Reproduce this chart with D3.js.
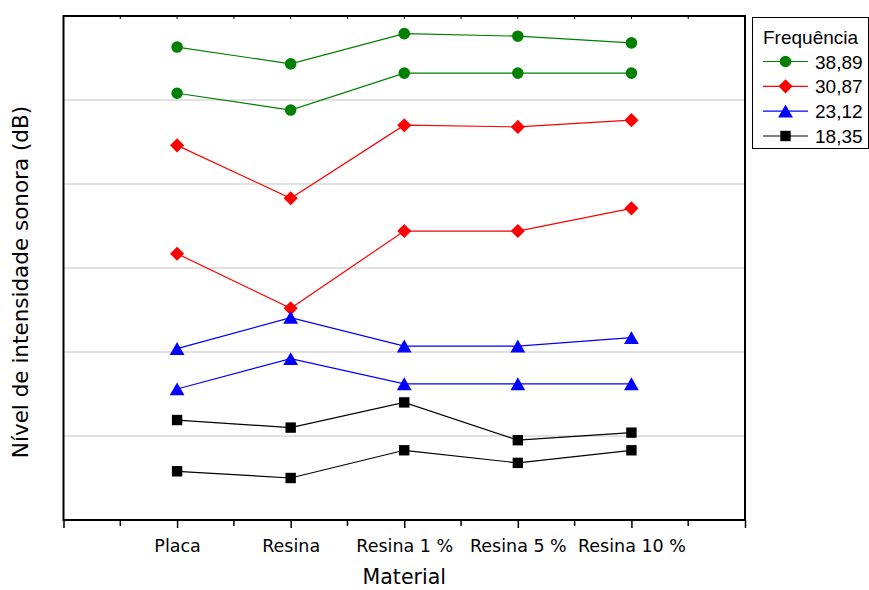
<!DOCTYPE html>
<html>
<head>
<meta charset="utf-8">
<script src="https://cdn.jsdelivr.net/npm/d3@7"></script>
<style>
  html, body { margin: 0; padding: 0; background: #fff; }
  svg { display: block; }
</style>
</head>
<body>
<svg id="chart" width="869" height="590"></svg>
<script>
// ---- data (y values in relative units; the original axis has no tick labels) ----
const categories = ["Placa", "Resina", "Resina 1 %", "Resina 5 %", "Resina 10 %"];
const frequencies = ["38,89", "30,87", "23,12", "18,35"];
const colors = ["#008000", "#ff0000", "#0000ff", "#000000"];
const symbols = ["circle", "diamond", "triangle", "square"];

const f3889_high = [5.63, 5.43, 5.79, 5.76, 5.68];
const f3889_low  = [5.08, 4.88, 5.32, 5.32, 5.32];
const f3087_high = [4.46, 3.83, 4.70, 4.68, 4.76];
const f3087_low  = [3.17, 2.52, 3.44, 3.44, 3.71];
const f2312_high = [2.04, 2.41, 2.07, 2.07, 2.17];
const f2312_low  = [1.56, 1.92, 1.62, 1.62, 1.62];
const f1835_high = [1.19, 1.10, 1.40, 0.95, 1.04];
const f1835_low  = [0.58, 0.50, 0.83, 0.68, 0.83];

const yGridValues = [1, 2, 3, 4, 5];
const xTitle = "Material";
const yTitle = "Nível de intensidade sonora (dB)";
const legendTitle = "Frequência";

const series = [
  { freq: 0, values: f3889_high }, { freq: 0, values: f3889_low },
  { freq: 1, values: f3087_high }, { freq: 1, values: f3087_low },
  { freq: 2, values: f2312_high }, { freq: 2, values: f2312_low },
  { freq: 3, values: f1835_high }, { freq: 3, values: f1835_low }
];

// ---- layout ----
const svg = d3.select("#chart");
const L = 63.5, R = 745, T = 16, B = 520;

const x = d3.scaleLinear().domain([0, categories.length + 1]).range([L, R]);
const y = d3.scaleLinear().domain([0, 6]).range([B, T]);

// gridlines
svg.append("g").selectAll("line").data(yGridValues).join("line")
  .attr("x1", L).attr("x2", R)
  .attr("y1", d => y(d)).attr("y2", d => y(d))
  .attr("stroke", "#c4c4c4").attr("stroke-width", 1);

// symbol generator
const diamondType = {
  draw(ctx, size) {
    const r = Math.sqrt(size / 2);
    ctx.moveTo(0, -r); ctx.lineTo(r, 0); ctx.lineTo(0, r); ctx.lineTo(-r, 0); ctx.closePath();
  }
};
function symPath(kind, size) {
  const map = { circle: d3.symbolCircle, diamond: diamondType, triangle: d3.symbolTriangle, square: d3.symbolSquare };
  return d3.symbol().type(map[kind]).size(size)();
}
const symSize = { circle: 105, diamond: 100, triangle: 95, square: 108 };
const symShift = { circle: 0, diamond: 0, triangle: 2, square: 0 };

// lines + markers
const line = d3.line().x((d, i) => x(i + 1)).y(d => y(d));
const gS = svg.append("g");
series.forEach(s => {
  const c = colors[s.freq];
  const k = symbols[s.freq];
  gS.append("path").datum(s.values).attr("d", line)
    .attr("fill", "none").attr("stroke", c).attr("stroke-width", 1.2);
  gS.append("g").selectAll("path").data(s.values).join("path")
    .attr("d", symPath(k, symSize[k]))
    .attr("transform", (d, i) => `translate(${x(i + 1)},${y(d) + symShift[k]})`)
    .attr("fill", c);
});

// bottom axis with ticks
const bottomAxis = d3.axisBottom(x)
  .tickValues(d3.range(0, categories.length + 1.01, 1))
  .tickSize(8)
  .tickFormat(d => (d >= 1 && d <= categories.length) ? categories[d - 1] : "");
const gB = svg.append("g").attr("transform", `translate(0,${B})`).call(bottomAxis);
gB.select(".domain").remove();
gB.selectAll(".tick line").attr("stroke", "#000").attr("stroke-width", 1.5);
gB.selectAll(".tick text").attr("font-family", "DejaVu Sans, Verdana, sans-serif")
  .attr("font-size", "17.5px").attr("fill", "#000").attr("dy", "0").attr("y", 32);
// minor ticks bottom
svg.append("g").selectAll("line").data(d3.range(0.5, categories.length + 1, 1)).join("line")
  .attr("x1", d => x(d)).attr("x2", d => x(d)).attr("y1", B).attr("y2", B + 6)
  .attr("stroke", "#000").attr("stroke-width", 1.5);
// top ticks (inward)
svg.append("g").selectAll("line").data(d3.range(0.5, categories.length + 1, 0.5)).join("line")
  .attr("x1", d => x(d)).attr("x2", d => x(d)).attr("y1", T).attr("y2", T + 3)
  .attr("stroke", "#000").attr("stroke-width", 1);

// frame
svg.append("rect").attr("x", L).attr("y", T).attr("width", R - L).attr("height", B - T)
  .attr("fill", "none").attr("stroke", "#000").attr("stroke-width", 2);

// axis titles
svg.append("text").attr("x", (L + R) / 2).attr("y", 584).attr("text-anchor", "middle")
  .attr("font-family", "DejaVu Sans, Verdana, sans-serif").attr("font-size", "20.5px")
  .attr("fill", "#000").text(xTitle);
svg.append("text").attr("transform", "translate(28,282) rotate(-90)").attr("text-anchor", "middle")
  .attr("font-family", "DejaVu Sans, Verdana, sans-serif").attr("font-size", "21.5px")
  .attr("fill", "#000").text(yTitle);

// legend
const lg = svg.append("g");
lg.append("rect").attr("x", 752.5).attr("y", 17.5).attr("width", 116).attr("height", 131)
  .attr("fill", "#fff").attr("stroke", "#000").attr("stroke-width", 1);
lg.append("text").attr("x", 763).attr("y", 44)
  .attr("font-family", "Liberation Sans, Arial, sans-serif").attr("font-size", "19px")
  .attr("fill", "#000").text(legendTitle);
const rowY = d3.scaleLinear().domain([0, 3]).range([61.5, 136]);
frequencies.forEach((f, i) => {
  const cy = rowY(i);
  const k = symbols[i];
  lg.append("line").attr("x1", 763).attr("x2", 808).attr("y1", cy).attr("y2", cy)
    .attr("stroke", colors[i]).attr("stroke-width", 1.2);
  lg.append("path").attr("d", symPath(k, symSize[k]))
    .attr("transform", `translate(785.5,${cy + symShift[k]})`).attr("fill", colors[i]);
  lg.append("text").attr("x", 815).attr("y", cy + 7)
    .attr("font-family", "Liberation Sans, Arial, sans-serif").attr("font-size", "19px")
    .attr("fill", "#000").text(f);
});
</script>
</body>
</html>
